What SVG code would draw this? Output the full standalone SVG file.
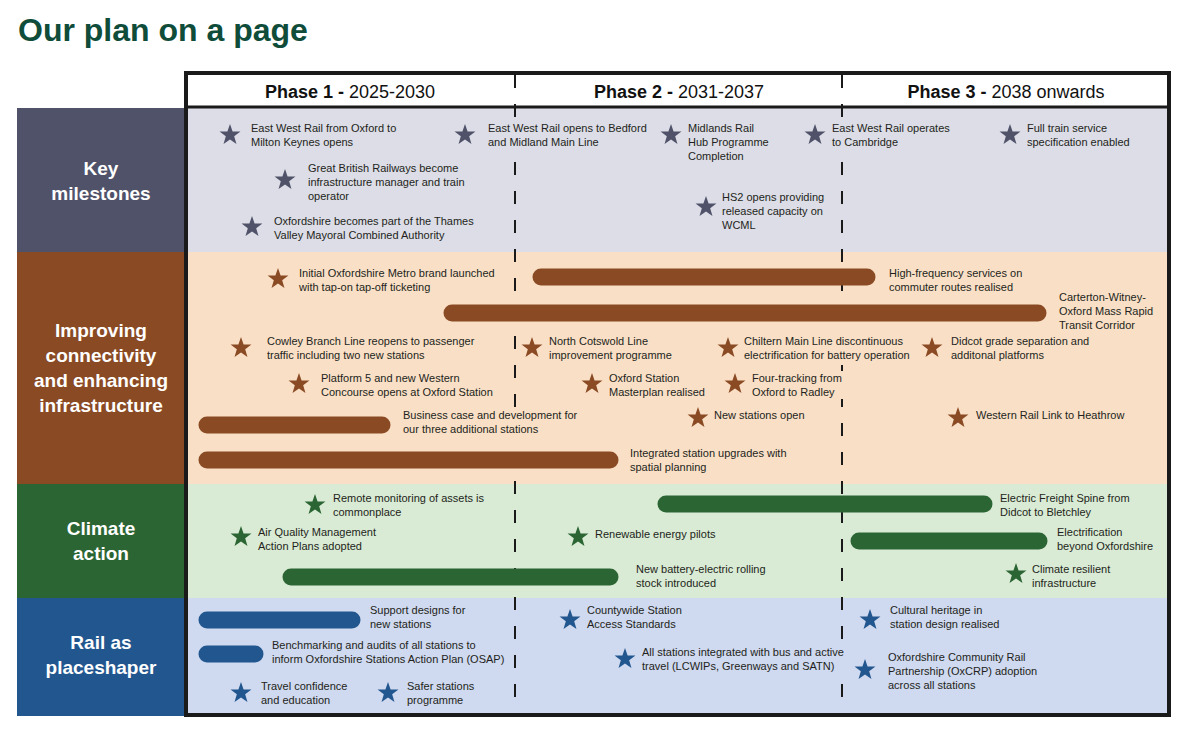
<svg xmlns="http://www.w3.org/2000/svg" xmlns:xlink="http://www.w3.org/1999/xlink" width="1184" height="732" viewBox="0 0 1184 732">
<style>
text{font-family:"Liberation Sans",Arial,sans-serif}
.t{font-size:11px;fill:#231f20}
.lab{font-size:19px;font-weight:bold;fill:#fff;text-anchor:middle}
.hd{font-size:18px;fill:#111;text-anchor:middle}
.hd .b{font-weight:bold}
.c1{fill:#4f5269}.c2{fill:#8a4a23}.c3{fill:#2b6534}.c4{fill:#22568f}
.k1{fill:#dcdde6}.k2{fill:#f9dfc6}.k3{fill:#d9ebd4}.k4{fill:#cfd9ef}
.bar{stroke-width:17;stroke-linecap:round;fill:none}
.b2{stroke:#8a4a23}.b3{stroke:#2b6534}.b4{stroke:#22568f}
.dash{stroke:#1a1a1a;stroke-width:2;stroke-dasharray:13 16}
</style>
<defs>
<path id="star" d="M0,-11 L2.59,-3.56 L10.46,-3.4 L4.18,1.36 L6.47,8.9 L0,4.4 L-6.47,8.9 L-4.18,1.36 L-10.46,-3.4 L-2.59,-3.56Z"/>
</defs>
<rect width="1184" height="732" fill="#fff"/>
<text x="18" y="41" style="font-size:32px;font-weight:bold;fill:#0f4c3a">Our plan on a page</text>

<g id="bands">
<rect x="186" y="107" width="983" height="145" class="k1"/>
<rect x="186" y="252" width="983" height="232" class="k2"/>
<rect x="186" y="484" width="983" height="114" class="k3"/>
<rect x="186" y="598" width="983" height="118" class="k4"/>
</g>

<g id="row-labels">
<g id="label-key"><rect x="17" y="108" width="168" height="144" class="c1"/><text class="lab" x="101" y="175">Key</text><text class="lab" x="101" y="200">milestones</text></g>
<g id="label-improving"><rect x="17" y="252" width="168" height="232" class="c2"/><text class="lab" x="101" y="337">Improving</text><text class="lab" x="101" y="362">connectivity</text><text class="lab" x="101" y="387">and enhancing</text><text class="lab" x="101" y="412">infrastructure</text></g>
<g id="label-climate"><rect x="17" y="484" width="168" height="114" class="c3"/><text class="lab" x="101" y="535">Climate</text><text class="lab" x="101" y="560">action</text></g>
<g id="label-rail"><rect x="17" y="598" width="168" height="118" class="c4"/><text class="lab" x="101" y="649">Rail as</text><text class="lab" x="101" y="674">placeshaper</text></g>
</g>

<g id="header">
<rect x="186" y="73" width="983" height="34" fill="#fff"/>
<text class="hd" x="350" y="98"><tspan class="b">Phase 1 - </tspan>2025-2030</text>
<text class="hd" x="679" y="98"><tspan class="b">Phase 2 - </tspan>2031-2037</text>
<text class="hd" x="1006" y="98"><tspan class="b">Phase 3 - </tspan>2038 onwards</text>
</g>

<g id="connectors">
<line class="dash" x1="515" y1="75" x2="515" y2="716"/>
<line class="dash" x1="842" y1="75" x2="842" y2="716"/>
</g>

<g id="frame">
<rect x="186" y="73" width="983" height="642" fill="none" stroke="#1a1a1a" stroke-width="4"/>
<line x1="186" y1="107" x2="1169" y2="107" stroke="#1a1a1a" stroke-width="3"/>
</g>

<!-- Key milestones -->
<g id="km1"><use xlink:href="#star" x="230" y="135" class="c1"/><text class="t" x="251" y="132">East West Rail from Oxford to<tspan x="251" dy="14">Milton Keynes opens</tspan></text></g>
<g id="km2"><rect x="486" y="121" width="163" height="28" class="k1"/><use xlink:href="#star" x="465" y="135" class="c1"/><text class="t" x="488" y="132">East West Rail opens to Bedford<tspan x="488" dy="14">and Midland Main Line</tspan></text></g>
<g id="km3"><use xlink:href="#star" x="671" y="135" class="c1"/><text class="t" x="688" y="132">Midlands Rail<tspan x="688" dy="14">Hub Programme</tspan><tspan x="688" dy="14">Completion</tspan></text></g>
<g id="km4"><rect x="830" y="121" width="123" height="28" class="k1"/><use xlink:href="#star" x="815" y="135" class="c1"/><text class="t" x="832" y="132">East West Rail operates<tspan x="832" dy="14">to Cambridge</tspan></text></g>
<g id="km5"><use xlink:href="#star" x="1010" y="135" class="c1"/><text class="t" x="1027" y="132">Full train service<tspan x="1027" dy="14">specification enabled</tspan></text></g>
<g id="km6"><use xlink:href="#star" x="285" y="180" class="c1"/><text class="t" x="308" y="172">Great British Railways become<tspan x="308" dy="14">infrastructure manager and train</tspan><tspan x="308" dy="14">operator</tspan></text></g>
<g id="km7"><use xlink:href="#star" x="252" y="227" class="c1"/><text class="t" x="274" y="225">Oxfordshire becomes part of the Thames<tspan x="274" dy="14">Valley Mayoral Combined Authority</tspan></text></g>
<g id="km8"><use xlink:href="#star" x="706" y="207" class="c1"/><text class="t" x="722" y="201">HS2 opens providing<tspan x="722" dy="14">released capacity on</tspan><tspan x="722" dy="14">WCML</tspan></text></g>

<!-- Improving connectivity -->
<g id="ic1"><use xlink:href="#star" x="278" y="279" class="c2"/><text class="t" x="299" y="277">Initial Oxfordshire Metro brand launched<tspan x="299" dy="14">with tap-on tap-off ticketing</tspan></text></g>
<g id="ic2"><line class="bar b2" x1="541" y1="277" x2="867" y2="277"/><text class="t" x="889" y="277">High-frequency services on<tspan x="889" dy="14">commuter routes realised</tspan></text></g>
<g id="ic3"><line class="bar b2" x1="452" y1="313" x2="1038" y2="313"/><text class="t" x="1059" y="301">Carterton-Witney-<tspan x="1059" dy="14">Oxford Mass Rapid</tspan><tspan x="1059" dy="14">Transit Corridor</tspan></text></g>
<g id="ic4"><use xlink:href="#star" x="241" y="348" class="c2"/><text class="t" x="267" y="345">Cowley Branch Line reopens to passenger<tspan x="267" dy="14">traffic including two new stations</tspan></text></g>
<g id="ic5"><use xlink:href="#star" x="532" y="348" class="c2"/><text class="t" x="549" y="345">North Cotswold Line<tspan x="549" dy="14">improvement programme</tspan></text></g>
<g id="ic6"><rect x="742" y="334" width="180" height="28" class="k2"/><use xlink:href="#star" x="728" y="348" class="c2"/><text class="t" x="744" y="345">Chiltern Main Line discontinuous<tspan x="744" dy="14">electrification for battery operation</tspan></text></g>
<g id="ic7"><use xlink:href="#star" x="932" y="348" class="c2"/><text class="t" x="951" y="345">Didcot grade separation and<tspan x="951" dy="14">additonal platforms</tspan></text></g>
<g id="ic8"><use xlink:href="#star" x="299" y="384" class="c2"/><text class="t" x="321" y="382">Platform 5 and new Western<tspan x="321" dy="14">Concourse opens at Oxford Station</tspan></text></g>
<g id="ic9"><use xlink:href="#star" x="592" y="384" class="c2"/><text class="t" x="609" y="382">Oxford Station<tspan x="609" dy="14">Masterplan realised</tspan></text></g>
<g id="ic10"><rect x="750" y="371" width="97" height="28" class="k2"/><use xlink:href="#star" x="735" y="384" class="c2"/><text class="t" x="752" y="382">Four-tracking from<tspan x="752" dy="14">Oxford to Radley</tspan></text></g>
<g id="ic11"><line class="bar b2" x1="207" y1="425" x2="382" y2="425"/><rect x="401" y="408" width="180" height="28" class="k2"/><text class="t" x="403" y="419">Business case and development for<tspan x="403" dy="14">our three additional stations</tspan></text></g>
<g id="ic12"><use xlink:href="#star" x="698" y="418" class="c2"/><text class="t" x="714" y="419">New stations open</text></g>
<g id="ic13"><use xlink:href="#star" x="958" y="418" class="c2"/><text class="t" x="976" y="419">Western Rail Link to Heathrow</text></g>
<g id="ic14"><line class="bar b2" x1="207" y1="460" x2="610" y2="460"/><text class="t" x="630" y="457">Integrated station upgrades with<tspan x="630" dy="14">spatial planning</tspan></text></g>

<!-- Climate action -->
<g id="ca1"><use xlink:href="#star" x="315" y="505" class="c3"/><text class="t" x="333" y="502">Remote monitoring of assets is<tspan x="333" dy="14">commonplace</tspan></text></g>
<g id="ca2"><line class="bar b3" x1="666" y1="504" x2="984" y2="504"/><text class="t" x="1000" y="502">Electric Freight Spine from<tspan x="1000" dy="14">Didcot to Bletchley</tspan></text></g>
<g id="ca3"><use xlink:href="#star" x="241" y="537" class="c3"/><text class="t" x="258" y="536">Air Quality Management<tspan x="258" dy="14">Action Plans adopted</tspan></text></g>
<g id="ca4"><use xlink:href="#star" x="578" y="537" class="c3"/><text class="t" x="595" y="538">Renewable energy pilots</text></g>
<g id="ca5"><line class="bar b3" x1="859" y1="541" x2="1039" y2="541"/><text class="t" x="1057" y="536">Electrification<tspan x="1057" dy="14">beyond Oxfordshire</tspan></text></g>
<g id="ca6"><line class="bar b3" x1="291" y1="577" x2="610" y2="577"/><text class="t" x="636" y="573">New battery-electric rolling<tspan x="636" dy="14">stock introduced</tspan></text></g>
<g id="ca7"><use xlink:href="#star" x="1016" y="574" class="c3"/><text class="t" x="1032" y="573">Climate resilient<tspan x="1032" dy="14">infrastructure</tspan></text></g>

<!-- Rail as placeshaper -->
<g id="rp1"><line class="bar b4" x1="207" y1="620" x2="352" y2="620"/><text class="t" x="370" y="614">Support designs for<tspan x="370" dy="14">new stations</tspan></text></g>
<g id="rp2"><line class="bar b4" x1="207" y1="654" x2="255" y2="654"/><text class="t" x="272" y="649">Benchmarking and audits of all stations to<tspan x="272" dy="14">inform Oxfordshire Stations Action Plan (OSAP)</tspan></text></g>
<g id="rp3"><use xlink:href="#star" x="241" y="693" class="c4"/><text class="t" x="261" y="690">Travel confidence<tspan x="261" dy="14">and education</tspan></text></g>
<g id="rp4"><use xlink:href="#star" x="388" y="693" class="c4"/><text class="t" x="407" y="690">Safer stations<tspan x="407" dy="14">programme</tspan></text></g>
<g id="rp5"><use xlink:href="#star" x="570" y="620" class="c4"/><text class="t" x="587" y="614">Countywide Station<tspan x="587" dy="14">Access Standards</tspan></text></g>
<g id="rp6"><rect x="640" y="645" width="209" height="28" class="k4"/><use xlink:href="#star" x="625" y="659" class="c4"/><text class="t" x="642" y="656">All stations integrated with bus and active<tspan x="642" dy="14">travel (LCWIPs, Greenways and SATN)</tspan></text></g>
<g id="rp7"><use xlink:href="#star" x="870" y="620" class="c4"/><text class="t" x="890" y="614">Cultural heritage in<tspan x="890" dy="14">station design realised</tspan></text></g>
<g id="rp8"><use xlink:href="#star" x="865" y="670" class="c4"/><text class="t" x="888" y="661">Oxfordshire Community Rail<tspan x="888" dy="14">Partnership (OxCRP) adoption</tspan><tspan x="888" dy="14">across all stations</tspan></text></g>
</svg>
